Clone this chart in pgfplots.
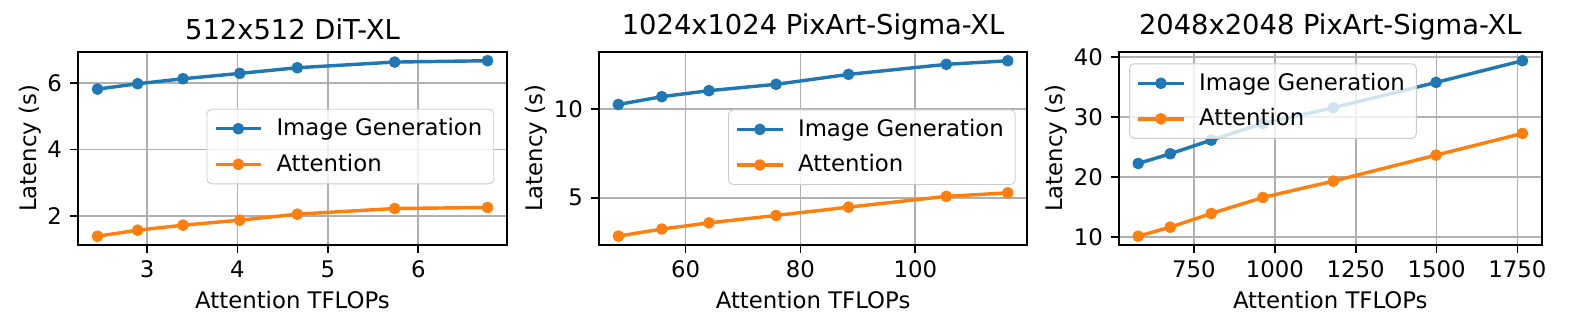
\documentclass[border=0pt]{standalone}
\usepackage{fontspec}
\setmainfont{DejaVu Sans}
\usepackage{pgfplots}
\pgfplotsset{compat=1.18}
\definecolor{c0}{HTML}{1F77B4}
\definecolor{c1}{HTML}{FF7F0E}
\pgfplotsset{
  mystyle/.style={
    scale only axis, height=84.65pt, anchor=south west,
    axis line style={line width=0.8pt, black},
    grid=major, major grid style={line width=0.8pt, color=black!31},
    tick align=outside, major tick length=3.5pt,
    every tick/.style={line width=0.8pt, black},
    xtick pos=bottom, ytick pos=left,
    tick label style={font=\fontsize{10}{12}\selectfont},
    label style={font=\fontsize{10}{12}\selectfont},
    title style={font=\fontsize{12}{14}\selectfont, yshift=-4.4pt},
    xlabel={Attention TFLOPs}, ylabel={Latency (s)},
    ylabel shift=-4pt, xlabel shift=-1pt,
    /pgf/number format/assume math mode=true,
    /pgf/number format/1000 sep={},
    legend cell align=left,
    legend style={draw=black!20, fill=white, fill opacity=0.8, text opacity=1,
      rounded corners=2pt, font=\fontsize{10}{12}\selectfont,
      inner xsep=3pt, inner ysep=2pt, row sep=2.5pt},
    legend image code/.code={\draw[mark repeat=2,mark phase=2] plot coordinates {(0pt,0pt)(10pt,0pt)(20pt,0pt)};\path (24pt,0pt);},
    every axis plot/.append style={line width=1.5pt, mark=*, mark size=1.8pt, line join=round},
  }
}
\begin{document}
\begin{tikzpicture}
\path[use as bounding box] (0,0) rectangle (691.7pt,145.6pt);
\begin{axis}[mystyle, at={(34.21pt,38.16pt)}, width=188.2pt,
  title={512x512 DiT-XL},
  xmin=2.237, xmax=6.98, ymin=1.137, ymax=6.923,
  xtick={3,4,5,6}, ytick={2,4,6},
  legend style={at={(0.970,0.3145)}, anchor=south east}]
\addplot[c0] coordinates {(2.453,5.81)(2.896,5.97)(3.398,6.12)(4.025,6.28)(4.661,6.45)(5.738,6.62)(6.764,6.66)};
\addplot[c1] coordinates {(2.453,1.40)(2.896,1.58)(3.398,1.73)(4.025,1.88)(4.661,2.06)(5.738,2.23)(6.764,2.26)};
\legend{Image Generation, Attention}
\end{axis}
\begin{axis}[mystyle, at={(262.7pt,38.16pt)}, width=187.9pt,
  title={1024x1024 PixArt-Sigma-XL},
  xmin=44.92, xmax=119.5, ymin=2.33, ymax=13.25,
  xtick={60,80,100}, ytick={5,10},
  legend style={at={(0.973,0.311)}, anchor=south east}]
\addplot[c0] coordinates {(48.31,10.28)(55.87,10.72)(64.07,11.06)(75.76,11.42)(88.37,11.98)(105.4,12.55)(116.1,12.75)};
\addplot[c1] coordinates {(48.31,2.83)(55.87,3.23)(64.07,3.58)(75.76,4.00)(88.37,4.47)(105.4,5.08)(116.1,5.28)};
\legend{Image Generation, Attention}
\end{axis}
\begin{axis}[mystyle, at={(490.8pt,38.16pt)}, width=185.4pt,
  title={2048x2048 PixArt-Sigma-XL},
  xmin=518.4, xmax=1824.9, ymin=8.65, ymax=40.79,
  xtick={750,1000,1250,1500,1750}, ytick={10,20,30,40},
  legend style={at={(0.024,0.941)}, anchor=north west}]
\addplot[c0] coordinates {(577.8,22.22)(676.8,23.83)(803.6,26.11)(963.4,28.89)(1180.9,31.5)(1498.5,35.72)(1765.5,39.33)};
\addplot[c1] coordinates {(577.8,10.11)(676.8,11.61)(803.6,13.89)(963.4,16.56)(1180.9,19.28)(1498.5,23.61)(1765.5,27.22)};
\legend{Image Generation, Attention}
\end{axis}
\end{tikzpicture}
\end{document}
